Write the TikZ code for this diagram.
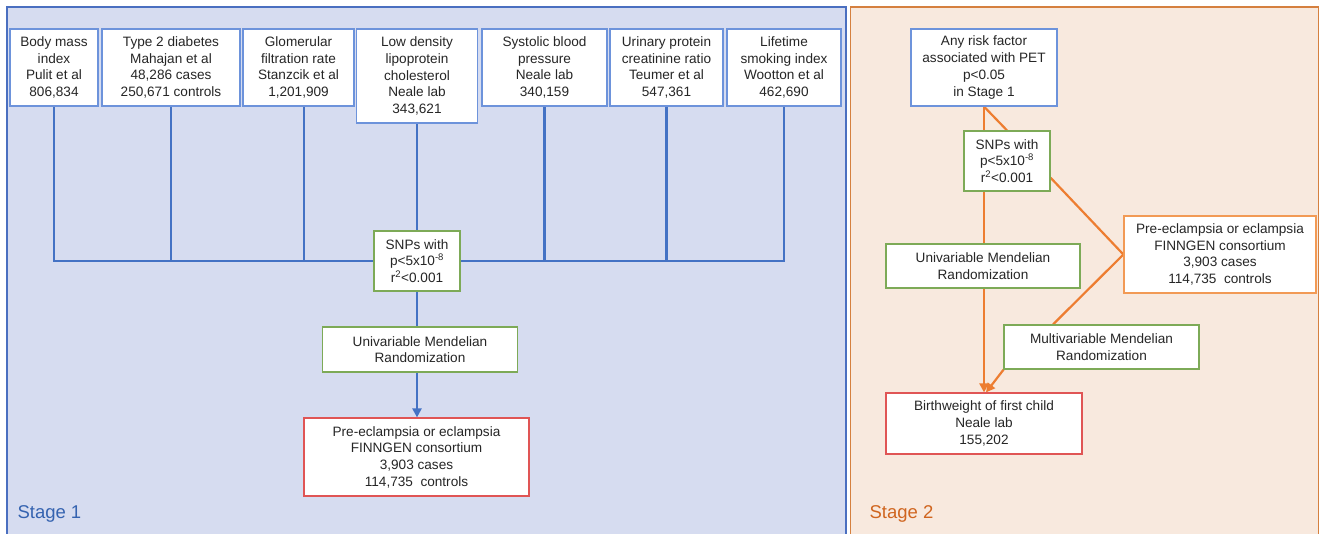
\documentclass[tikz,border=0pt]{standalone}
\usepackage{fontspec}
\setmainfont{Liberation Sans}
\usetikzlibrary{arrows.meta}
\definecolor{panelAfill}{RGB}{214,220,240}
\definecolor{panelAdraw}{RGB}{74,111,192}
\definecolor{panelBfill}{RGB}{248,233,222}
\definecolor{panelBdraw}{RGB}{213,128,63}
\definecolor{lineblue}{RGB}{68,114,196}
\definecolor{lineorange}{RGB}{237,125,49}
\definecolor{boxblue}{RGB}{109,147,219}
\definecolor{boxgreen}{RGB}{125,170,87}
\definecolor{boxred}{RGB}{224,85,85}
\definecolor{boxorange}{RGB}{242,154,85}
\definecolor{stageblue}{RGB}{53,99,176}
\definecolor{stageorange}{RGB}{208,101,31}
\pgfdeclarelayer{panels}
\pgfdeclarelayer{links}
\pgfsetlayers{panels,links,main}
\tikzset{
  box/.style={draw, fill=white, align=center, inner sep=0pt, line width=1.2pt,
    font=\fontsize{13.6}{16.7}\selectfont, text=black!85},
  bbox/.style={box, draw=boxblue},
  gbox/.style={box, draw=boxgreen},
  rbox/.style={box, draw=boxred},
  obox/.style={box, draw=boxorange},
  bline/.style={draw=lineblue, line width=2.2pt},
  oline/.style={draw=lineorange, line width=2.2pt},
  tip/.style={-{Triangle[length=9pt,width=9pt]}},
  stagelabel/.style={anchor=base west, font=\fontsize{18.5}{21}\selectfont},
}
\begin{document}
\begin{tikzpicture}[x=1pt,y=-1pt]
\useasboundingbox (0,0) rectangle (1325,534);
\clip (0,0) rectangle (1325,534);
% Stage 1 boxes
\node[bbox, minimum width=88, minimum height=77] (bmi) at (54,67.5) {Body mass\\index\\Pulit et al\\806,834};
\node[bbox, minimum width=138, minimum height=77] (t2d) at (171,67.5) {Type 2 diabetes\\Mahajan et al\\48,286 cases\\250,671 controls};
\node[bbox, minimum width=111, minimum height=77] (glom) at (298.5,67.5) {Glomerular\\filtration rate\\Stanzcik et al\\1,201,909};
\node[bbox, minimum width=121, minimum height=94] (ldl) at (417,76) {Low density\\lipoprotein\\cholesterol\\Neale lab\\343,621};
\node[bbox, minimum width=125, minimum height=77] (sys) at (544.5,67.5) {Systolic blood\\pressure\\Neale lab\\340,159};
\node[bbox, minimum width=113, minimum height=77] (uri) at (666.5,67.5) {Urinary protein\\creatinine ratio\\Teumer et al\\547,361};
\node[bbox, minimum width=114, minimum height=77] (life) at (784,67.5) {Lifetime\\smoking index\\Wootton et al\\462,690};
\node[gbox, minimum width=86, minimum height=60] (snp1) at (417,261) {SNPs with\\p<5x10\textsuperscript{-8}\\r\textsuperscript{2}<0.001};
\node[gbox, minimum width=195, minimum height=45] (uni1) at (420,349.5) {Univariable Mendelian\\Randomization};
\node[rbox, minimum width=225, minimum height=78] (pe1) at (416.5,457) {Pre-eclampsia or eclampsia\\FINNGEN consortium\\3,903 cases\\114,735\ \ controls};
\node[stagelabel, text=stageblue] (s1) at (14,518) {Stage 1};
% Stage 2 boxes
\node[bbox, minimum width=146, minimum height=77] (any) at (984,67.5) {Any risk factor\\associated with PET\\p<0.05\\in Stage 1};
\node[gbox, minimum width=86, minimum height=60] (snp2) at (1007,161) {SNPs with\\p<5x10\textsuperscript{-8}\\r\textsuperscript{2}<0.001};
\node[gbox, minimum width=194, minimum height=44] (uni2) at (983,266) {Univariable Mendelian\\Randomization};
\node[obox, minimum width=192, minimum height=77] (pe2) at (1220,254.5) {Pre-eclampsia or eclampsia\\FINNGEN consortium\\3,903 cases\\114,735\ \ controls};
\node[gbox, minimum width=195, minimum height=44] (mv2) at (1101.5,347) {Multivariable Mendelian\\Randomization};
\node[rbox, minimum width=196, minimum height=61] (bw) at (984,423.5) {Birthweight of first child\\Neale lab\\155,202};
\node[stagelabel, text=stageorange] (s2) at (866,518) {Stage 2};
% panels
\begin{pgfonlayer}{panels}
\draw[fill=panelAfill, draw=panelAdraw, line width=1.5pt] (7,7) rectangle (846,545);
\draw[fill=panelBfill, draw=panelBdraw, line width=1.5pt] (850.5,7) rectangle (1318.5,545);
\end{pgfonlayer}
% connectors
\begin{pgfonlayer}{links}
\draw[bline] (bmi.south) |- (snp1.west);
\draw[bline] (t2d.south) |- (snp1.west);
\draw[bline] ([xshift=5.5pt]glom.south) |- (snp1.west);
\draw[bline] (ldl.south) -- (snp1.north);
\draw[bline] (sys.south) |- (snp1.east);
\draw[bline] (uri.south) |- (snp1.east);
\draw[bline] (life.south) |- (snp1.east);
\draw[bline] (snp1.south) -- (snp1.south |- uni1.north);
\draw[bline, tip] (snp1.south |- uni1.south) -- (pe1.north -| snp1.south);
\draw[oline, tip] (any.south) -- (bw.north);
\draw[oline] (any.south) -- (snp2.north);
\draw[oline] (snp2.-21) -- (pe2.west);
\draw[oline] (pe2.west) -- (mv2.155.6);
\draw[oline, tip] (mv2.193) -- ([xshift=2pt]bw.north);
\end{pgfonlayer}
\end{tikzpicture}
\end{document}
